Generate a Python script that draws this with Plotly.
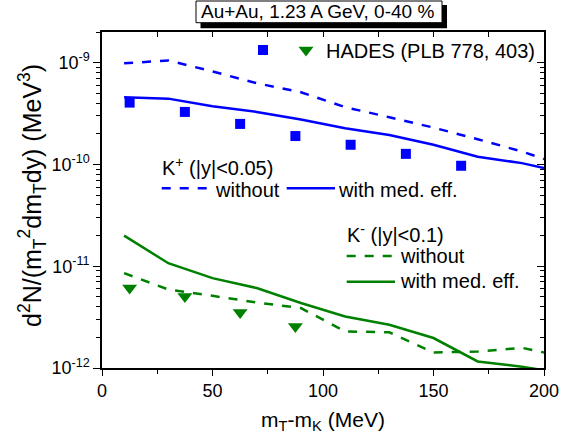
import math
import plotly.graph_objects as go

# ---------------- data ----------------
x_model = [10, 30, 50, 70, 90, 110, 130, 150, 170, 190, 200]
kp_without = [0.985e-9, 1.05e-9, 8.2e-10, 6.28e-10, 5.12e-10, 3.65e-10, 2.91e-10, 2.30e-10, 1.77e-10, 1.34e-10, 1.13e-10]
kp_with = [4.57e-10, 4.43e-10, 3.72e-10, 3.28e-10, 2.76e-10, 2.27e-10, 1.95e-10, 1.56e-10, 1.19e-10, 1.03e-10, 0.92e-10]
km_without = [8.55e-12, 5.9e-12, 5.12e-12, 4.4e-12, 3.88e-12, 2.29e-12, 2.24e-12, 1.42e-12, 1.45e-12, 1.58e-12, 1.42e-12]
km_with = [2.0e-11, 1.07e-11, 7.64e-12, 6.1e-12, 4.35e-12, 3.21e-12, 2.66e-12, 1.97e-12, 1.16e-12, 1.03e-12, 0.95e-12]

hades_kp_x = [12.5, 37.5, 62.5, 87.5, 112.5, 137.5, 162.5]
hades_kp = [4.05e-10, 3.28e-10, 2.5e-10, 1.9e-10, 1.56e-10, 1.27e-10, 0.97e-10]
hades_km_x = [12.5, 37.5, 62.5, 87.5]
hades_km = [6.1e-12, 5.05e-12, 3.51e-12, 2.56e-12]

y_tick_vals = [1e-12, 1e-11, 1e-10, 1e-9]
y_tick_text = ["10<sup>-12</sup>", "10<sup>-11</sup>", "10<sup>-10</sup>", "10<sup>-9</sup>"]

title_text = "Au+Au, 1.23 A GeV, 0-40 %"
hades_label = "HADES (PLB 778, 403)"
kp_header = "K<sup>+</sup> (|y|<0.05)"
km_header = "K<sup>-</sup> (|y|<0.1)"
lbl_without = "without"
lbl_with = "with med. eff."
x_title = "m<sub>T</sub>-m<sub>K</sub> (MeV)"
y_title = "d<sup>2</sup>N/(m<sub>T</sub><sup>2</sup>dm<sub>T</sub>dy) (MeV<sup>3</sup>)"

# ---------------- styling / geometry ----------------
BLUE = "#0000FF"
GREEN = "#008000"
FONT = "Arial, Liberation Sans, sans-serif"
W, H = 572, 437
L, R, T, B = 102, 28, 32, 69
PW, PH = W - L - R, H - T - B


def px2x(p):                 # page pixel -> paper x
    return (p - L) / PW


def py2y(p):                 # page pixel -> paper y
    return (H - B - p) / PH


minor_log = [k * 10.0 ** e for e in range(-12, -8) for k in range(2, 10)]
minor_log = [v for v in minor_log if v <= 2e-9]
yrange = [-12, math.log10(2e-9)]

fig = go.Figure()
fig.add_trace(go.Scatter(x=x_model, y=kp_without, mode="lines",
                         line=dict(color=BLUE, width=2.5, dash="dash"), showlegend=False))
fig.add_trace(go.Scatter(x=x_model, y=kp_with, mode="lines",
                         line=dict(color=BLUE, width=2.5), showlegend=False))
fig.add_trace(go.Scatter(x=x_model, y=km_without, mode="lines",
                         line=dict(color=GREEN, width=2.5, dash="dash"), showlegend=False))
fig.add_trace(go.Scatter(x=x_model, y=km_with, mode="lines",
                         line=dict(color=GREEN, width=2.5), showlegend=False))
fig.add_trace(go.Scatter(x=hades_kp_x, y=hades_kp, mode="markers", name="", legend="legend",
                         marker=dict(symbol="square", size=10, color=BLUE)))
fig.add_trace(go.Scatter(x=hades_km_x, y=hades_km, mode="markers", name=hades_label, legend="legend2",
                         marker=dict(symbol="triangle-down", size=13, color=GREEN)))
fig.add_trace(go.Scatter(x=[], y=[], xaxis="x2", yaxis="y2", showlegend=False, hoverinfo="skip"))

axis_common = dict(showgrid=False, zeroline=False, showline=True, linecolor="black",
                   linewidth=1.5, tickcolor="black", tickwidth=1.2)

fig.update_layout(
    width=W, height=H,
    margin=dict(l=L, r=R, t=T, b=B, autoexpand=False),
    paper_bgcolor="white", plot_bgcolor="white",
    font=dict(family=FONT, color="black", size=18),
    xaxis=dict(range=[0, 200], tick0=0, dtick=50, ticks="outside", ticklen=6,
               minor=dict(dtick=25, ticks="outside", ticklen=4, tickcolor="black"),
               tickfont=dict(size=18),
               title=dict(text=x_title, font=dict(size=21), standoff=12),
               **axis_common),
    yaxis=dict(type="log", range=yrange, tickmode="array", tickvals=y_tick_vals, ticktext=y_tick_text,
               ticks="outside", ticklen=7,
               minor=dict(tickmode="array", tickvals=minor_log, ticks="outside", ticklen=4, tickcolor="black"),
               tickfont=dict(size=18),
               **axis_common),
    xaxis2=dict(range=[0, 200], overlaying="x", side="top", anchor="y", tick0=0, dtick=25,
                ticks="inside", ticklen=5, showticklabels=False, **axis_common),
    yaxis2=dict(type="log", range=yrange, overlaying="y", side="right", anchor="x",
                tickmode="array", tickvals=y_tick_vals, ticks="inside", ticklen=7, showticklabels=False,
                minor=dict(tickmode="array", tickvals=minor_log, ticks="inside", ticklen=4, tickcolor="black"),
                **axis_common),
    legend=dict(orientation="h", x=px2x(243), xanchor="left", y=py2y(50), yanchor="middle",
                bgcolor="rgba(0,0,0,0)", font=dict(size=20)),
    legend2=dict(orientation="h", x=px2x(286), xanchor="left", y=py2y(50), yanchor="middle",
                 bgcolor="rgba(0,0,0,0)", font=dict(size=20)),
    showlegend=True,
)

# title box with shadow, legend line samples
shapes = [
    dict(type="rect", xref="paper", yref="paper", x0=px2x(200.5), x1=px2x(447), y0=py2y(5), y1=py2y(28.3),
         fillcolor="black", line=dict(width=0)),
    dict(type="rect", xref="paper", yref="paper", x0=px2x(196), x1=px2x(442), y0=py2y(1), y1=py2y(22.7),
         fillcolor="white", line=dict(color="black", width=1)),
    dict(type="line", xref="paper", yref="paper", x0=px2x(161.7), x1=px2x(210), y0=py2y(188.3), y1=py2y(188.3),
         line=dict(color=BLUE, width=2.5, dash="dash")),
    dict(type="line", xref="paper", yref="paper", x0=px2x(286.7), x1=px2x(335), y0=py2y(188.3), y1=py2y(188.3),
         line=dict(color=BLUE, width=2.5)),
    dict(type="line", xref="paper", yref="paper", x0=px2x(346.7), x1=px2x(395), y0=py2y(256), y1=py2y(256),
         line=dict(color=GREEN, width=2.5, dash="dash")),
    dict(type="line", xref="paper", yref="paper", x0=px2x(346.7), x1=px2x(395), y0=py2y(281.7), y1=py2y(281.7),
         line=dict(color=GREEN, width=2.5)),
]
fig.update_layout(shapes=shapes)


def note(text, xp, yp, size=20):
    return dict(text=text, xref="paper", yref="paper", x=px2x(xp), y=py2y(yp), xanchor="left",
                yanchor="middle", showarrow=False, font=dict(size=size, family=FONT, color="black"))


fig.update_layout(annotations=[
    note(title_text, 199, 12, size=19),
    note(kp_header, 160, 166),
    note(lbl_without, 213, 190),
    note(lbl_with, 336, 190),
    note(km_header, 345, 233),
    note(lbl_without, 398, 255.5),
    note(lbl_with, 398, 281),
    dict(text=y_title, xref="paper", yref="paper", x=px2x(32), y=py2y(196), xanchor="center",
         yanchor="middle", textangle=-90, showarrow=False, font=dict(size=25, family=FONT, color="black")),
])

fig.write_html("out.html", config={"displayModeBar": False},
               post_script="document.body.style.margin='0px';")
